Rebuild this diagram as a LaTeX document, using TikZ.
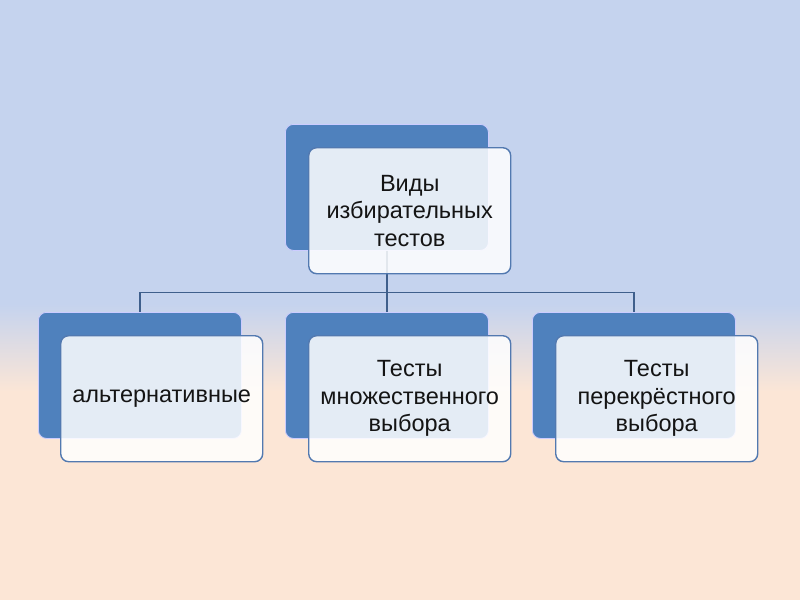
\documentclass[tikz,border=0pt]{standalone}
\usepackage{fontspec}
\setmainfont{Liberation Sans}
\usetikzlibrary{calc}
\begin{document}
\begin{tikzpicture}[x=1pt,y=-1pt,
  backbox/.style={draw=white!80!blue, line width=0.8pt, fill=bbl, rounded corners=8pt,
    minimum width=203pt, minimum height=126pt, inner sep=0pt, anchor=north west},
  frontbox/.style={draw=fbd, line width=1.4pt, fill=white, fill opacity=0.85, text opacity=1,
    rounded corners=8pt, minimum width=202pt, minimum height=126pt, inner sep=0pt,
    anchor=north west, align=center, font=\fontsize{23.5}{27.5}\selectfont, text=txt},
  conn/.style={draw=cl, line width=1.3pt}]
\definecolor{bgtop}{HTML}{C5D3EE}
\definecolor{bgbot}{HTML}{FCE6D6}
\definecolor{bbl}{HTML}{4F81BD}
\definecolor{fbd}{HTML}{5279B0}
\definecolor{cl}{HTML}{3F5F8C}
\definecolor{txt}{HTML}{141414}
\useasboundingbox (0,0) rectangle (800,600);
\fill[bgtop] (0,0) rectangle (800,305);
\shade[top color=bgtop, bottom color=bgbot] (0,304) rectangle (800,392);
\fill[bgbot] (0,391) rectangle (800,600);
% back boxes
\node[backbox] (tb) at (285,124) {};
\node[backbox] (lb) at (38,312) {};
\node[backbox] (mb) at (285,312) {};
\node[backbox] (rb) at (532,312) {};
% connectors
\coordinate (bus) at ($(tb.south)+(0,42)$);
\draw[conn] (tb.south) -- (bus);
\draw[conn] (bus) -| (lb.north);
\draw[conn] (bus) -| (rb.north);
\draw[conn] (bus) -- (mb.north);
% front boxes
\node[frontbox] (tf) at (308,147) {Виды\\избирательных\\тестов};
\node[frontbox] (lf) at (60,335) {альтернативные};
\node[frontbox] (mf) at (308,335) {Тесты\\множественного\\выбора};
\node[frontbox] (rf) at (555,335) {Тесты\\перекрёстного\\выбора};
\end{tikzpicture}
\end{document}
